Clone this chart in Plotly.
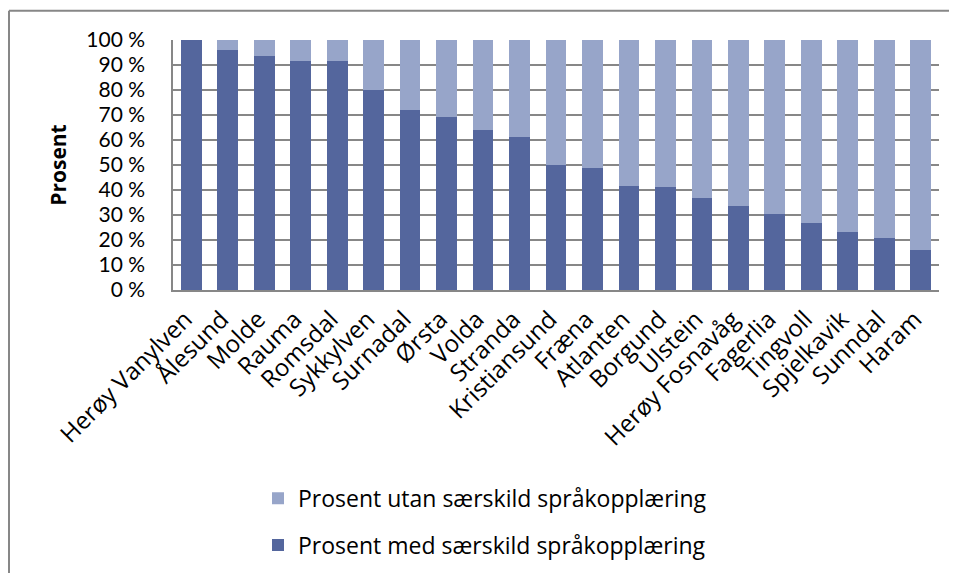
import plotly.graph_objects as go

categories = ["Herøy Vanylven", "Ålesund", "Molde", "Rauma", "Romsdal", "Sykkylven",
              "Surnadal", "Ørsta", "Volda", "Stranda", "Kristiansund", "Fræna",
              "Atlanten", "Borgund", "Ulstein", "Herøy Fosnavåg", "Fagerlia",
              "Tingvoll", "Spjelkavik", "Sunndal", "Haram"]
med = [100, 96.0, 93.5, 91.8, 91.8, 80.2, 72.0, 69.4, 63.9, 61.1, 50.0, 48.8,
       41.7, 41.3, 36.8, 33.7, 30.5, 27.0, 23.2, 21.0, 16.2]
utan = [100 - v for v in med]
series_names = ["Prosent med særskild språkopplæring", "Prosent utan særskild språkopplæring"]
y_ticks = list(range(0, 101, 10))
y_ticktext = [f"{v} %" for v in y_ticks]

dark = "#54669D"
light = "#97A5C9"
grid = "#878787"
font_family = "'Open Sans', 'Noto Sans', sans-serif"

fig = go.Figure()
fig.add_trace(go.Bar(x=categories, y=med, name=series_names[0], legendgroup="a",
                     legendrank=2, marker=dict(color=dark, line=dict(width=0))))
fig.add_trace(go.Bar(x=categories, y=utan, name=series_names[1], legendgroup="b",
                     legendrank=1, marker=dict(color=light, line=dict(width=0))))

# page body has an 8px margin; work in screen coordinates and subtract it
OFF = 8
W, H = 957 - OFF, 578 - OFF
L, R, T, B = 173 - OFF, 939 - OFF, 40 - OFF, 297 - OFF
pw, ph = R - L, B - T
fig.update_layout(
    width=W, height=H,
    margin=dict(l=L, r=W - R, t=T, b=H - B, pad=0),
    barmode="stack", bargap=0.43,
    paper_bgcolor="white", plot_bgcolor="white",
    font=dict(family=font_family, size=21, color="black"),
    showlegend=True,
    legend=dict(traceorder="grouped", x=(258 - OFF - L) / pw, xanchor="left",
                y=(B - (489 - OFF)) / ph, yanchor="top",
                font=dict(size=23), tracegroupgap=14, bgcolor="rgba(0,0,0,0)"),
    xaxis=dict(tickangle=-45, showgrid=False, ticks="", showline=True,
               linecolor=grid, linewidth=1.5, tickfont=dict(size=24),
               ticklabelshift=-6, ticklabelstandoff=4),
    yaxis=dict(range=[0, 100], tickvals=y_ticks, ticktext=y_ticktext,
               showgrid=True, gridcolor=grid, gridwidth=1.5, zeroline=False,
               showline=True, linecolor=grid, linewidth=1.5, ticks="",
               ticklabelstandoff=22,
               tickfont=dict(family="Lato, 'Open Sans', sans-serif", size=21),
               title=dict(text="<b>Prosent</b>", font=dict(size=21), standoff=14)),
)

# outer chart border (only left and top edges are inside the picture)
bx0 = (9 - OFF - L) / pw
by1 = (B - (10 - OFF)) / ph
for x0, y0, x1, y1 in [(bx0, (B - (H + 10)) / ph, bx0, by1),
                       (bx0, by1, (W + 10 - L) / pw, by1)]:
    fig.add_shape(type="line", xref="paper", yref="paper", x0=x0, y0=y0, x1=x1, y1=y1,
                  line=dict(color=grid, width=2), layer="above")

fig.write_html("out.html")
